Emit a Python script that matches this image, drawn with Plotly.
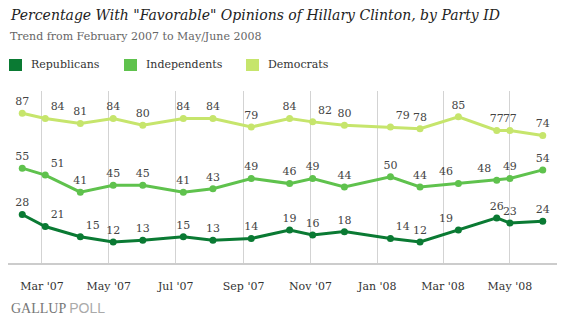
import plotly.graph_objects as go

# Survey field dates (end of field period) and favorable percentages
dates = ["2007-02-11", "2007-03-04", "2007-04-05", "2007-05-05", "2007-06-01",
         "2007-07-08", "2007-08-04", "2007-09-08", "2007-10-13", "2007-11-03",
         "2007-12-02", "2008-01-13", "2008-02-09", "2008-03-15", "2008-04-19",
         "2008-05-01", "2008-05-31"]
republicans = [28, 21, 15, 12, 13, 15, 13, 14, 19, 16, 18, 14, 12, 19, 26, 23, 24]
independents = [55, 51, 41, 45, 45, 41, 43, 49, 46, 49, 44, 50, 44, 46, 48, 49, 54]
democrats = [87, 84, 81, 84, 80, 84, 84, 79, 84, 82, 80, 79, 78, 85, 77, 77, 74]

series_names = ["Republicans", "Independents", "Democrats"]
tick_vals = ["2007-03-01", "2007-05-01", "2007-07-01", "2007-09-01",
             "2007-11-01", "2008-01-01", "2008-03-01", "2008-05-01"]
tick_text = ["Mar '07", "May '07", "Jul '07", "Sep '07",
             "Nov '07", "Jan '08", "Mar '08", "May '08"]

colors = ["#0a7a33", "#5fc24d", "#c6e56c"]
W, H = 563, 324
serif = "DejaVu Serif"

C, R, L_ = "top center", "top right", "top left"
label_pos = [
    [C, R, R, C, C, C, C, C, C, C, C, R, C, L_, C, C, C],
    [C, R, C, C, C, C, C, C, C, C, C, C, C, L_, L_, C, C],
    [C, R, C, C, C, C, C, C, C, R, C, R, C, C, C, C, C],
]

fig = go.Figure()
for name, vals, col, pos in zip(series_names, [republicans, independents, democrats], colors, label_pos):
    fig.add_trace(go.Scatter(
        x=dates, y=vals, name=name, mode="lines+markers+text",
        line=dict(color=col, width=3),
        marker=dict(color=col, size=7),
        text=[str(v) for v in vals], textposition=pos,
        textfont=dict(family=serif, size=11, color="#444444"),
        cliponaxis=False, showlegend=False,
    ))

x0, x1 = 8 / W, 557 / W
y0, y1 = (H - 262.5) / H, (H - 91) / H

fig.update_layout(
    width=W, height=H, margin=dict(l=0, r=0, t=0, b=0),
    paper_bgcolor="white", plot_bgcolor="white",
    xaxis=dict(
        domain=[x0, x1], type="date", range=["2007-01-29", "2008-06-13"],
        tickvals=tick_vals, ticktext=tick_text, showgrid=True,
        gridcolor="#d3d3d3", gridwidth=1, showline=True, linecolor="#cccccc",
        linewidth=2, ticks="", ticklabelstandoff=12,
        tickfont=dict(family=serif, size=11, color="#333333"), zeroline=False,
    ),
    yaxis=dict(domain=[y0, y1], range=[0, 100], visible=False),
)

ann = []
ann.append(dict(x=8 / W, y=1 - 15 / H, xref="paper", yref="paper", xanchor="left", yanchor="middle",
                text="<i>Percentage With \"Favorable\" Opinions of Hillary Clinton, by Party ID</i>",
                showarrow=False, font=dict(family=serif, size=14, color="#222222")))
ann.append(dict(x=8 / W, y=1 - 37 / H, xref="paper", yref="paper", xanchor="left", yanchor="middle",
                text="Trend from February 2007 to May/June 2008",
                showarrow=False, font=dict(family=serif, size=11, color="#666666")))

legend_x = [9, 124, 246]
for lx, name, col in zip(legend_x, series_names, colors):
    fig.add_shape(type="rect", xref="paper", yref="paper",
                  x0=lx / W, x1=(lx + 13) / W, y0=1 - 71 / H, y1=1 - 59 / H,
                  fillcolor=col, line=dict(width=0))
    ann.append(dict(x=(lx + 20) / W, y=1 - 64.5 / H, xref="paper", yref="paper",
                    xanchor="left", yanchor="middle", text=name, showarrow=False,
                    font=dict(family=serif, size=11, color="#333333")))

ann.append(dict(x=9 / W, y=1 - 307.5 / H, xref="paper", yref="paper", xanchor="left", yanchor="middle",
                text="<span style='color:#777777'>GALLUP</span> <span style='color:#aaaaaa;font-family:Liberation Sans'>POLL</span>",
                showarrow=False, font=dict(family="Liberation Serif", size=14)))

fig.update_layout(annotations=ann)
fig.write_html("out.html")
